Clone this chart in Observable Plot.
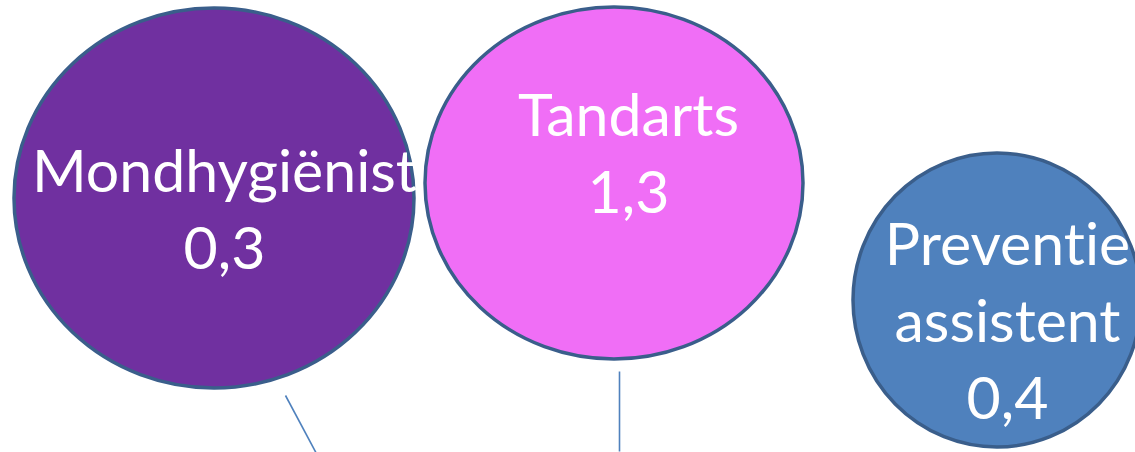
<!DOCTYPE html>
<html>
<head>
<meta charset="utf-8">
<script src="https://cdn.jsdelivr.net/npm/d3@7"></script>
<script src="https://cdn.jsdelivr.net/npm/@observablehq/plot@0.6"></script>
<style>
  html, body { margin: 0; padding: 0; background: #fff; }
  svg { display: block; }
  svg text, svg tspan { font-variant-ligatures: none; font-feature-settings: "liga" 0, "clig" 0; }
</style>
</head>
<body>
<div id="chart"></div>
<script>
// Data
const roles = ["Mondhygiënist", "Tandarts", "Preventie\nassistent"];
const values = ["0,3", "1,3", "0,4"];
const fills = ["#7030a0", "#f06ef6", "#4f81bd"];
// Bubble layout (diagram coordinates)
const bubbleX = [214, 614, 997];
const bubbleY = [198, 183, 300];
const bubbleRX = [200, 189, 144];
const bubbleRY = [190, 176, 147];
// Label anchor (baseline of last line) in diagram coordinates
const labelX = [224, 628, 1007];
const labelY = [268, 212, 418];
// Connector lines (partially visible)
const connX1 = [285, 619];
const connY1 = [395, 371];
const connX2 = [317, 619];
const connY2 = [455, 451];

const bubbles = roles.map((r, i) => ({
  role: r, value: values[i], fill: fills[i],
  x: bubbleX[i], y: bubbleY[i], rx: bubbleRX[i], ry: bubbleRY[i],
  lx: labelX[i], ly: labelY[i], text: r + "\n" + values[i]
}));
const connectors = connX1.map((x, i) => ({x1: x, y1: connY1[i], x2: connX2[i], y2: connY2[i]}));

function ellipses(data) {
  return (index, scales) => {
    const g = d3.create("svg:g");
    g.selectAll("ellipse")
      .data(data)
      .join("ellipse")
      .attr("cx", d => scales.x(d.x))
      .attr("cy", d => scales.y(d.y))
      .attr("rx", d => Math.abs(scales.x(d.x + d.rx) - scales.x(d.x)))
      .attr("ry", d => Math.abs(scales.y(d.y + d.ry) - scales.y(d.y)))
      .attr("fill", d => d.fill)
      .attr("stroke", "#3a5e8b")
      .attr("stroke-width", 3.5);
    return g.node();
  };
}

const chart = Plot.plot({
  width: 1135,
  height: 452,
  margin: 0,
  x: {domain: [0, 1135], axis: null},
  y: {domain: [452, 0], axis: null},
  style: {background: "#fff", overflow: "hidden"},
  marks: [
    Plot.link(connectors, {x1: "x1", y1: "y1", x2: "x2", y2: "y2", stroke: "#4f81bd", strokeWidth: 1.6}),
    ellipses(bubbles),
    Plot.text(bubbles, {
      x: "lx", y: "ly", text: "text",
      lineAnchor: "bottom", lineHeight: 1.3,
      fill: "#ffffff", fontSize: 59,
      fontFamily: "Lato, 'Open Sans', sans-serif"
    })
  ]
});
document.getElementById("chart").appendChild(chart);
</script>
</body>
</html>
